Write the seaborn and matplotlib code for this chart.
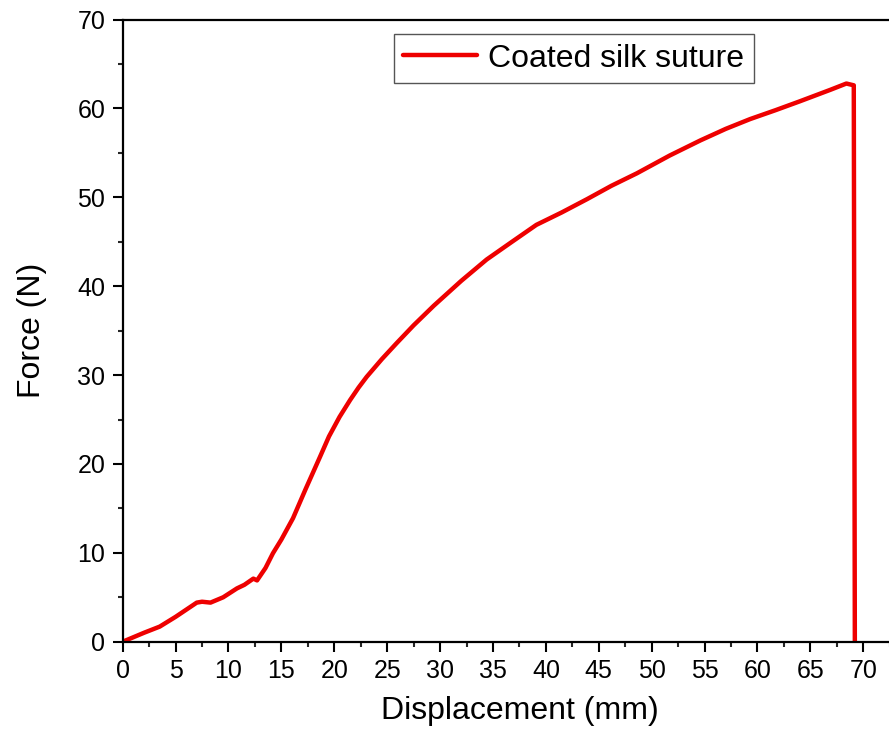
import numpy as np
import pandas as pd
import matplotlib
matplotlib.use('Agg')
import matplotlib.pyplot as plt
import seaborn as sns
from matplotlib.ticker import MultipleLocator

# valores (deslocamento em mm, força em N)
deslocamento = [0, 1, 2, 3.5, 5, 6, 7, 7.5, 8.3, 9.5, 10.8, 11.5, 12.35, 12.7,
                13.5, 14.2, 15, 16.1, 17.3, 18.65, 19.5, 20.5, 21.5, 22.3,
                23.06, 24.5, 25.9, 27.5, 29.4, 32.0, 34.4, 36.8, 39.1, 41.5,
                43.9, 46.2, 48.6, 51.7, 54.6, 57.0, 59.3, 61.7, 64.0, 66.9,
                68.4, 69.1, 69.2]
forca = [0, 0.5, 1.0, 1.7, 2.8, 3.6, 4.4, 4.5, 4.4, 5.0, 6.0, 6.4, 7.1, 6.9,
         8.3, 9.95, 11.5, 13.9, 17.2, 20.8, 23.1, 25.3, 27.2, 28.6,
         29.8, 31.8, 33.6, 35.6, 37.8, 40.6, 43.0, 45.0, 46.9, 48.3,
         49.8, 51.3, 52.7, 54.7, 56.4, 57.7, 58.8, 59.8, 60.8, 62.1,
         62.8, 62.6, 0]
serie = 'Coated silk suture'

df = pd.DataFrame({'deslocamento': deslocamento, 'forca': forca})

sns.set_theme(style='ticks')
plt.rcParams['font.family'] = ['Liberation Sans', 'DejaVu Sans']

fig = plt.figure(figsize=(8.89, 7.4), dpi=100)
ax = fig.add_axes([0.138, 0.1328, 0.8926, 0.8408])

sns.lineplot(data=df, x='deslocamento', y='forca', sort=False, estimator=None,
             color='#ee0000', linewidth=3.2, label=serie, ax=ax)

ax.set_xlim(0, 75)
ax.set_ylim(0, 70)
ax.set_xticks(np.arange(0, 71, 5))
ax.xaxis.set_minor_locator(MultipleLocator(2.5))
ax.yaxis.set_major_locator(MultipleLocator(10))
ax.yaxis.set_minor_locator(MultipleLocator(5))

for s in ax.spines.values():
    s.set_linewidth(1.6)
    s.set_color('black')

ax.tick_params(which='major', direction='out', length=7.5, width=1.5,
               labelsize=18, pad=5, colors='black')
ax.tick_params(which='minor', direction='out', length=3.8, width=1.5)

ax.set_xlabel('Displacement (mm)', fontsize=23, labelpad=9, color='black')
ax.set_ylabel('Force (N)', fontsize=23, labelpad=22, color='black')

leg = ax.legend(loc='upper left', bbox_to_anchor=(0.443, 0.954),
                bbox_transform=fig.transFigure, fontsize=23, frameon=True,
                fancybox=False, framealpha=1, edgecolor='#555555',
                handlelength=2.3, handletextpad=0.35, borderpad=0.3,
                borderaxespad=0)
leg.get_frame().set_linewidth(1.0)
for t in leg.get_texts():
    t.set_color('black')

plt.savefig('out.png', dpi=100)
